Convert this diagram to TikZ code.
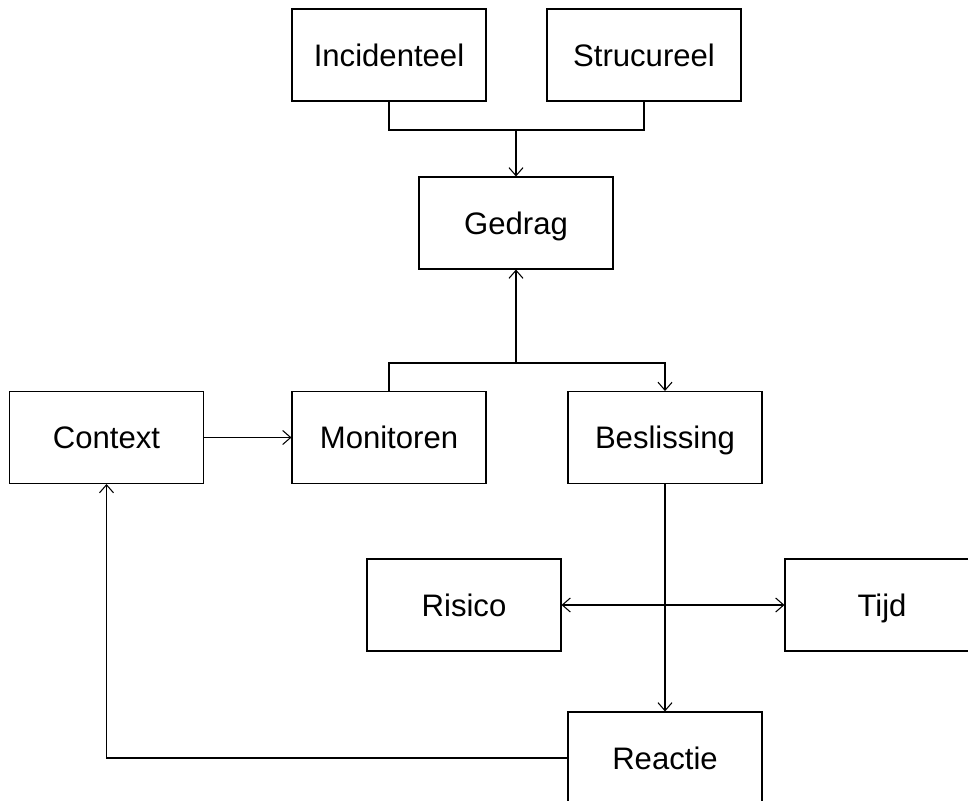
\documentclass[tikz,border=0pt]{standalone}
\usepackage{fontspec}
\setmainfont{Liberation Sans}
\usetikzlibrary{arrows.meta}
\begin{document}
\begin{tikzpicture}[x=0.02cm,y=-0.02cm,
  box/.style={draw, line width=0.6pt, minimum width=3.88cm, minimum height=1.84cm,
    inner sep=0pt, text height=13pt, text depth=0.4pt,
    font=\fontsize{17.7}{21}\selectfont},
  conn/.style={line width=0.6pt},
  tip/.tip={Straight Barb[length=0.16cm,width=0.28cm]},
  arr/.style={conn, -tip},
]
\useasboundingbox (0,0) rectangle (968,801);
\clip (0,0) rectangle (968,801);

% boxes
\node[box] (inc) at (389,55) {Incidenteel};
\node[box] (str) at (644,55) {Strucureel};
\node[box] (ged) at (516,223) {Gedrag};
\node[box] (ctx) at (106.5,437.5) {Context};
\node[box] (mon) at (389,437.5) {Monitoren};
\node[box] (bes) at (665,437.5) {Beslissing};
\node[box] (ris) at (464,605) {Risico};
\node[box] (tij) at (882,605) {Tijd};
\node[box] (rea) at (665,758) {Reactie};

% junction points
\coordinate (j1) at (516,130);
\coordinate (j2) at (516,363);

% connectors
\draw[conn] (inc.south) |- (j1) -| (str.south);
\draw[arr] (j1) -- (ged.north);
\draw[arr] (mon.north) |- (j2) -| (bes.north);
\draw[arr] (j2) -- (ged.south);
\draw[arr] (ctx) -- (mon);
\draw[arr] (bes) -- (rea);
\draw[conn, tip-tip] (ris) -- (tij);
\draw[arr] (rea.west) -| (ctx.south);
\end{tikzpicture}
\end{document}
